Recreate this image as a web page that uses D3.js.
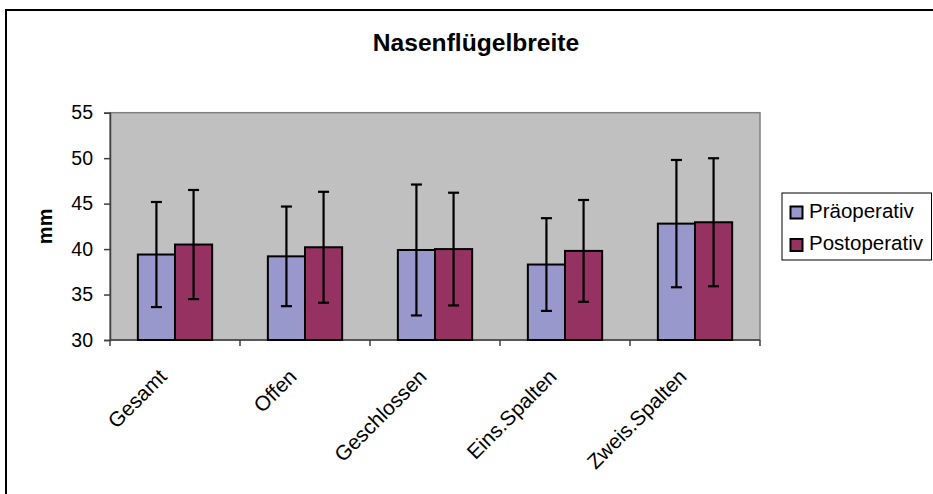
<!DOCTYPE html>
<html>
<head>
<meta charset="utf-8">
<script src="https://cdn.jsdelivr.net/npm/d3@7"></script>
<style>
  html, body { margin: 0; padding: 0; background: #fff; }
  svg { display: block; font-family: "Liberation Sans", Arial, sans-serif; }
</style>
</head>
<body>
<svg id="chart" width="933" height="494"></svg>
<script>
// Nasenflügelbreite: mean ± SD before and after surgery, per group
const categories = ["Gesamt", "Offen", "Geschlossen", "Eins.Spalten", "Zweis.Spalten"];
const seriesNames = ["Präoperativ", "Postoperativ"];
const praeMean = [39.4, 39.2, 39.9, 38.3, 42.8];
const praeSD   = [5.78, 5.48, 7.2, 5.1, 7.0];
const postMean = [40.5, 40.2, 40.0, 39.8, 42.95];
const postSD   = [6.0, 6.1, 6.2, 5.6, 7.04];
const yTicks = [30, 35, 40, 45, 50, 55];

const colors = ["#9898cc", "#963262"];

const svg = d3.select("#chart");

// outer chart frame (runs off the right and bottom edges)
svg.append("rect")
  .attr("x", 6).attr("y", 10)
  .attr("width", 1000).attr("height", 600)
  .attr("fill", "#fff")
  .attr("stroke", "#000").attr("stroke-width", 2);

const plot = { left: 110, right: 760, top: 112.7, bottom: 340 };

const x0 = d3.scaleBand()
  .domain(categories)
  .range([plot.left, plot.right])
  .paddingInner(0).paddingOuter(0);

const x1 = d3.scaleBand()
  .domain(seriesNames)
  .range([0, x0.bandwidth()])
  .paddingInner(0)
  .paddingOuter(0.75);

const y = d3.scaleLinear().domain([30, 55]).range([plot.bottom, plot.top]);

// plot area background
svg.append("rect")
  .attr("x", plot.left).attr("y", plot.top)
  .attr("width", plot.right - plot.left)
  .attr("height", plot.bottom - plot.top)
  .attr("fill", "#c0c0c0")
  .attr("stroke", "#808080").attr("stroke-width", 1.5);

// title
svg.append("text")
  .attr("x", 476).attr("y", 50.5)
  .attr("text-anchor", "middle")
  .attr("font-weight", "bold")
  .attr("font-size", 24.6)
  .attr("fill", "#000")
  .text("Nasenflügelbreite");

// y axis
const yAxis = d3.axisLeft(y).tickValues(yTicks).tickSize(6).tickPadding(11);
const gy = svg.append("g")
  .attr("transform", `translate(${plot.left},0)`)
  .call(yAxis);
gy.selectAll("path").attr("stroke", "#404040").attr("stroke-width", 1.5);
gy.selectAll("line").attr("stroke", "#404040").attr("stroke-width", 1.5);
gy.selectAll("text")
  .attr("font-size", 19.5)
  .attr("fill", "#000")
  .attr("font-family", "'Liberation Sans', Arial, sans-serif");

// y axis title
svg.append("text")
  .attr("transform", `translate(52,${(plot.top + plot.bottom) / 2}) rotate(-90)`)
  .attr("text-anchor", "middle")
  .attr("font-weight", "bold")
  .attr("font-size", 20)
  .attr("fill", "#000")
  .text("mm");

// x axis line and separator ticks between categories
const gx = svg.append("g");
gx.append("line")
  .attr("x1", plot.left).attr("x2", plot.right)
  .attr("y1", plot.bottom).attr("y2", plot.bottom)
  .attr("stroke", "#404040").attr("stroke-width", 1.5);
const sepTicks = categories.map(c => x0(c)).concat([x0(categories[categories.length - 1]) + x0.bandwidth()]);
gx.selectAll("line.sep")
  .data(sepTicks)
  .join("line")
  .attr("class", "sep")
  .attr("x1", d => d).attr("x2", d => d)
  .attr("y1", plot.bottom).attr("y2", plot.bottom + 6)
  .attr("stroke", "#404040").attr("stroke-width", 1.5);

// rotated category labels
gx.selectAll("text.cat")
  .data(categories)
  .join("text")
  .attr("class", "cat")
  .attr("transform", d => `translate(${x0(d) + x0.bandwidth() / 2 - 7},378) rotate(-45)`)
  .attr("text-anchor", "end")
  .attr("font-size", 20.8)
  .attr("fill", "#000")
  .text(d => d);

// bars + error bars
const rows = categories.map((c, i) => ({
  cat: c,
  vals: [
    { s: seriesNames[0], m: praeMean[i], sd: praeSD[i], col: colors[0] },
    { s: seriesNames[1], m: postMean[i], sd: postSD[i], col: colors[1] }
  ]
}));

const groups = svg.append("g").selectAll("g")
  .data(rows)
  .join("g")
  .attr("transform", d => `translate(${x0(d.cat)},0)`);

groups.selectAll("rect")
  .data(d => d.vals)
  .join("rect")
  .attr("x", d => x1(d.s))
  .attr("y", d => y(d.m))
  .attr("width", x1.bandwidth())
  .attr("height", d => y(30) - y(d.m))
  .attr("fill", d => d.col)
  .attr("stroke", "#000")
  .attr("stroke-width", 2);

const capHalf = 5.5;
const eb = groups.selectAll("g.err")
  .data(d => d.vals)
  .join("g")
  .attr("class", "err")
  .attr("stroke", "#000")
  .attr("stroke-width", 2.2);
eb.append("line")
  .attr("x1", d => x1(d.s) + x1.bandwidth() / 2)
  .attr("x2", d => x1(d.s) + x1.bandwidth() / 2)
  .attr("y1", d => y(d.m + d.sd))
  .attr("y2", d => y(d.m - d.sd));
eb.append("line")
  .attr("x1", d => x1(d.s) + x1.bandwidth() / 2 - capHalf)
  .attr("x2", d => x1(d.s) + x1.bandwidth() / 2 + capHalf)
  .attr("y1", d => y(d.m + d.sd))
  .attr("y2", d => y(d.m + d.sd));
eb.append("line")
  .attr("x1", d => x1(d.s) + x1.bandwidth() / 2 - capHalf)
  .attr("x2", d => x1(d.s) + x1.bandwidth() / 2 + capHalf)
  .attr("y1", d => y(d.m - d.sd))
  .attr("y2", d => y(d.m - d.sd));

// legend
const legend = svg.append("g");
legend.append("rect")
  .attr("x", 782).attr("y", 193)
  .attr("width", 149.5).attr("height", 67)
  .attr("fill", "#fff")
  .attr("stroke", "#000").attr("stroke-width", 1);
const li = legend.selectAll("g.item")
  .data(seriesNames)
  .join("g")
  .attr("class", "item")
  .attr("transform", (d, i) => `translate(790,${206 + i * 32.5})`);
li.append("rect")
  .attr("x", 0.5).attr("y", 0.5)
  .attr("width", 12).attr("height", 12)
  .attr("fill", (d, i) => colors[i])
  .attr("stroke", "#000").attr("stroke-width", 2);
li.append("text")
  .attr("x", 19).attr("y", 11.5)
  .attr("font-size", 20.5)
  .attr("fill", "#000")
  .text(d => d);
</script>
</body>
</html>
